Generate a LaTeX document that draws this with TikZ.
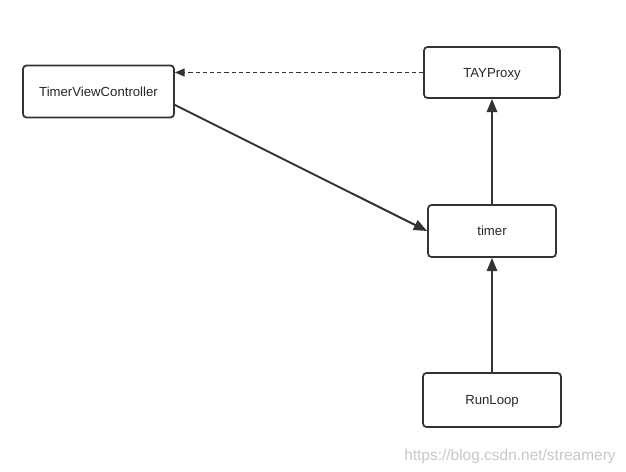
\documentclass[tikz,border=0pt]{standalone}
\usepackage{fontspec}
\setmainfont{Liberation Sans}
\usetikzlibrary{arrows.meta}

\begin{document}
\begin{tikzpicture}[x=0.02cm,y=-0.02cm,text depth=0pt]
\tikzstyle{box}=[draw=black!80,line width=1pt,rounded corners=2pt,text=black!85,font=\fontsize{7.5}{9}\selectfont]
\tikzstyle{link}=[draw=black!80,line width=1.1pt,-{Triangle[length=7.6pt,width=6pt]}]
\tikzstyle{weaklink}=[draw=black!80,line width=0.6pt,dash pattern=on 2.4pt off 1.7pt,-{Triangle[length=5.5pt,width=4.5pt]}]
\useasboundingbox (0,0) rectangle (626,472);
\node[box,minimum width=3.02cm,minimum height=1.04cm] (vc) at (98.5,91.5) {TimerViewController};
\node[box,minimum width=2.72cm,minimum height=1.02cm] (proxy) at (492,72.5) {TAYProxy};
\node[box,minimum width=2.56cm,minimum height=1.04cm] (timer) at (492,231) {timer};
\node[box,minimum width=2.76cm,minimum height=1.08cm] (runloop) at (492,400) {RunLoop};
\draw[weaklink] (proxy.west) -- (proxy.west -| vc.east);
\draw[link] (vc.-10.5) -- (timer.west);
\draw[link] (timer.north) -- (proxy.south);
\draw[link] (runloop.north) -- (timer.south);
\node[text=black!22,font=\fontsize{8.8}{10}\selectfont] (mark) at (510,455) {https://blog.csdn.net/streamery};
\end{tikzpicture}
\end{document}
